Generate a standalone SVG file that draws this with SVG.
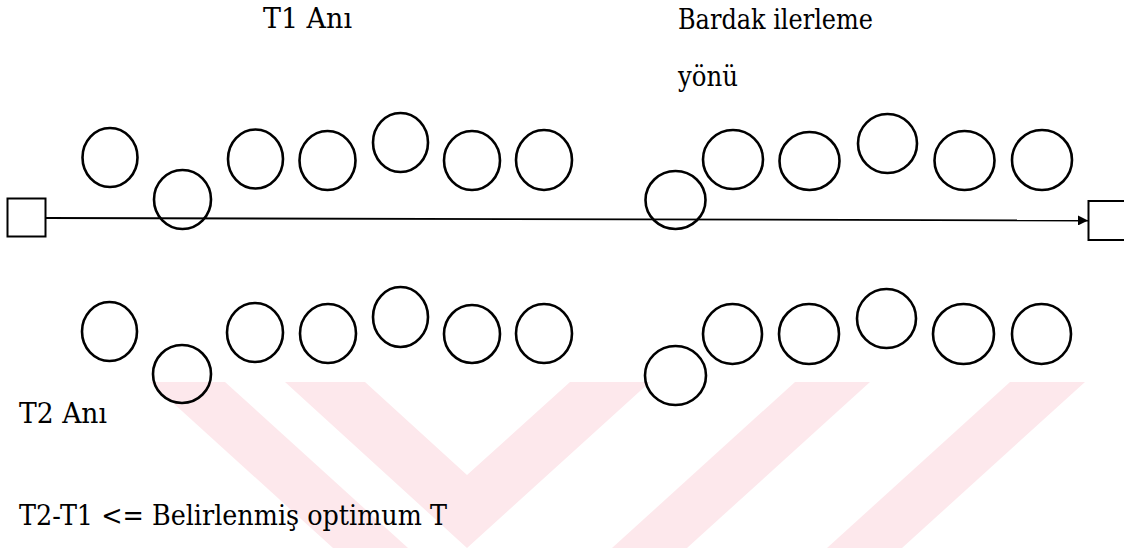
<svg xmlns="http://www.w3.org/2000/svg" width="1124" height="548" viewBox="0 0 1124 548">
<style>
.bg{fill:#fde8ec;stroke:none}
.cup{fill:none;stroke:#000;stroke-width:2.6}
.box{fill:#fff;stroke:#000;stroke-width:2}
.conn{fill:none;stroke:#000;stroke-width:1.8}
</style>
<defs>
<marker id="arr" viewBox="0 0 10 10" refX="10" refY="5" markerWidth="10" markerHeight="10" markerUnits="userSpaceOnUse" orient="auto">
<path d="M0,0 L10,5 L0,10 z" fill="#000"/>
</marker>
</defs>
<rect width="1124" height="548" fill="#fff"/>
<g id="watermark">
<polygon class="bg" points="150,382 225,382 408,548 333,548"/>
<polygon class="bg" points="285,382 365,382 467,475 570,382 650,382 467,548"/>
<polygon class="bg" points="795,382 870,382 687,548 612,548"/>
<polygon class="bg" points="1010,382 1085,382 902,548 827,548"/>
</g>
<g id="connectors">
<line class="conn" x1="46" y1="218" x2="1088" y2="220.5" marker-end="url(#arr)"/>
</g>
<g id="start-box"><rect class="box" x="7.5" y="198.5" width="38" height="38"/></g>
<g id="end-box"><rect class="box" x="1088.5" y="201" width="50" height="39"/></g>
<g id="cups-t1">
<ellipse class="cup" cx="110" cy="157.5" rx="27.5" ry="29.5"/>
<ellipse class="cup" cx="182.5" cy="199.5" rx="28.5" ry="29.5"/>
<ellipse class="cup" cx="255.5" cy="159" rx="27.5" ry="29.5"/>
<ellipse class="cup" cx="327.5" cy="160.5" rx="28" ry="29.5"/>
<ellipse class="cup" cx="400.5" cy="142.5" rx="27.5" ry="29.5"/>
<ellipse class="cup" cx="472" cy="160.5" rx="28" ry="29.5"/>
<ellipse class="cup" cx="544" cy="160" rx="28" ry="30"/>
<ellipse class="cup" cx="675.5" cy="200" rx="30" ry="29"/>
<ellipse class="cup" cx="733" cy="159.5" rx="30" ry="29.5"/>
<ellipse class="cup" cx="809.5" cy="161" rx="30" ry="29"/>
<ellipse class="cup" cx="887.5" cy="143.5" rx="29.5" ry="29.5"/>
<ellipse class="cup" cx="964.5" cy="160.5" rx="30" ry="29.5"/>
<ellipse class="cup" cx="1042" cy="160" rx="30" ry="30"/>
</g>
<g id="cups-t2">
<ellipse class="cup" cx="109.5" cy="331.5" rx="27.5" ry="29.5"/>
<ellipse class="cup" cx="182" cy="374" rx="29" ry="29"/>
<ellipse class="cup" cx="255" cy="332.5" rx="28" ry="29.5"/>
<ellipse class="cup" cx="328" cy="333.5" rx="28" ry="29.5"/>
<ellipse class="cup" cx="400.5" cy="317" rx="27.5" ry="30"/>
<ellipse class="cup" cx="472" cy="334" rx="28" ry="29"/>
<ellipse class="cup" cx="544" cy="333.5" rx="28" ry="29.5"/>
<ellipse class="cup" cx="675.5" cy="375.5" rx="30.5" ry="29.5"/>
<ellipse class="cup" cx="732.5" cy="334" rx="29.5" ry="30"/>
<ellipse class="cup" cx="809" cy="334" rx="30" ry="30"/>
<ellipse class="cup" cx="886.5" cy="318.5" rx="29.5" ry="29.5"/>
<ellipse class="cup" cx="963.5" cy="334" rx="30.5" ry="30"/>
<ellipse class="cup" cx="1041.5" cy="334" rx="29.5" ry="30"/>
</g>
<g id="labels" font-family="DejaVu Serif, Liberation Serif, serif" font-size="27" fill="#000">
<text x="263" y="28" textLength="89" lengthAdjust="spacingAndGlyphs">T1 Anı</text>
<text x="678" y="29" textLength="195" lengthAdjust="spacingAndGlyphs">Bardak ilerleme</text>
<text x="678" y="86" textLength="60" lengthAdjust="spacingAndGlyphs">yönü</text>
<text x="19" y="423" textLength="88" lengthAdjust="spacingAndGlyphs">T2 Anı</text>
<text x="19" y="525" textLength="428" lengthAdjust="spacingAndGlyphs">T2-T1 &lt;= Belirlenmiş optimum T</text>
</g>
</svg>
